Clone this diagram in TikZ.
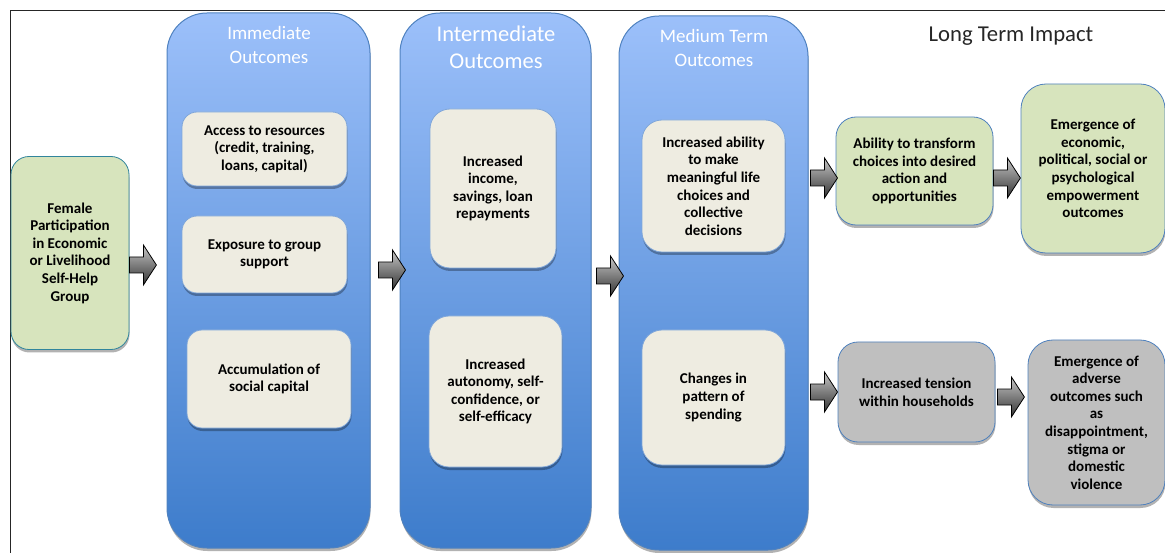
\documentclass[tikz,border=0pt]{standalone}
\usepackage{fontspec}
\setmainfont{Carlito}
\usetikzlibrary{shadows}

\definecolor{colTop}{HTML}{9CC0FA}
\definecolor{colBot}{HTML}{3D7CCB}
\definecolor{colEdge}{HTML}{4F82C0}
\definecolor{boxFill}{HTML}{EEECE1}
\definecolor{boxEdge}{HTML}{7FA6D9}
\definecolor{greenFill}{HTML}{D7E4BD}
\definecolor{greyFill}{HTML}{BFBFBF}
\definecolor{tealEdge}{HTML}{31859C}
\definecolor{blueEdge}{HTML}{4F81BD}

\tikzset{
  softshadow/.style={drop shadow={shadow xshift=0.5pt,shadow yshift=-3pt,opacity=0.3,fill=black}},
  column/.style={draw=colEdge,line width=1pt,rounded corners=40pt,
    top color=colTop,bottom color=colBot,softshadow},
  header/.style={text=white,align=center,font=\fontsize{19}{24}\selectfont},
  outcome/.style={draw=boxEdge,line width=0.8pt,fill=boxFill,rounded corners=15pt,
    align=center,inner sep=2pt,font=\bfseries\fontsize{15}{17.6}\selectfont,softshadow},
  impact/.style={outcome,draw=blueEdge,fill=greenFill,rounded corners=20pt},
  adverse/.style={outcome,draw=blueEdge,fill=greyFill,rounded corners=20pt},
  flowarrow/.style={draw=black,line width=0.8pt,line join=miter,
    top color=gray!45,bottom color=black!80},
  flow/.pic={
    \draw[flowarrow] (0,-8) -- (14,-8) -- (14,-20) -- (27,0) -- (14,20)
      -- (14,8) -- (0,8) -- cycle;
  }
}

\begin{document}
\begin{tikzpicture}[x=1pt,y=1pt]
  \useasboundingbox (0,0) rectangle (1165,-553);
  \draw[black!85,line width=0.8pt] (10,-553) |- (1165,-10);

  % starting point
  \node[outcome,draw=tealEdge,fill=greenFill,rounded corners=18pt,
    minimum width=118pt,minimum height=193pt] (female) at (70,-253)
    {Female\\Participation\\in Economic\\or Livelihood\\Self-Help\\Group};

  % outcome columns
  \node[column,minimum width=203pt,minimum height=535pt] (imm) at (268.5,-280.5) {};
  \node[header] (immHead) at (269,-45) {Immediate\\Outcomes};
  \node[column,minimum width=191pt,minimum height=535pt] (inter) at (495.5,-280.5) {};
  \node[header,font=\fontsize{22.5}{27}\selectfont] (interHead) at (496,-47.5) {Intermediate\\Outcomes};
  \node[column,minimum width=189pt,minimum height=534pt] (med) at (713.5,-283) {};
  \node[header] (medHead) at (714,-48) {Medium Term\\Outcomes};
  \node[text=black!85,font=\fontsize{22.7}{26}\selectfont] (longHead) at (1011,-36) {Long Term Impact};

  % immediate
  \node[outcome,minimum width=165pt,minimum height=74pt] (access) at (264.5,-149)
    {Access to resources\\(credit, training,\\loans, capital)};
  \node[outcome,minimum width=165pt,minimum height=77pt] (exposure) at (264.5,-254.5)
    {Exposure to group\\support};
  \node[outcome,minimum width=164pt,minimum height=98pt] (social) at (269,-379)
    {Accumulation of\\social capital};

  % intermediate
  \node[outcome,rounded corners=20pt,minimum width=126pt,minimum height=159pt] (income) at (493,-188.5)
    {Increased\\income,\\savings, loan\\repayments};
  \node[outcome,rounded corners=20pt,minimum width=133pt,minimum height=151pt] (autonomy) at (495.5,-391.5)
    {Increased\\autonomy, self-\\confidence, or\\self-efficacy};

  % medium term
  \node[outcome,rounded corners=20pt,minimum width=143pt,minimum height=132pt] (ability) at (713.5,-186)
    {Increased ability\\to make\\meaningful life\\choices and\\collective\\decisions};
  \node[outcome,rounded corners=20pt,minimum width=143pt,minimum height=135pt] (spending) at (713.5,-397.5)
    {Changes in\\pattern of\\spending};

  % long term
  \node[impact,minimum width=157pt,minimum height=108pt] (transform) at (914.5,-171)
    {Ability to transform\\choices into desired\\action and\\opportunities};
  \node[impact,rounded corners=25pt,minimum width=144pt,minimum height=169pt] (empower) at (1093,-168.5)
    {Emergence of\\economic,\\political, social or\\psychological\\empowerment\\outcomes};
  \node[adverse,minimum width=157pt,minimum height=100pt] (tension) at (916.5,-392)
    {Increased tension\\within households};
  \node[adverse,rounded corners=25pt,minimum width=137pt,minimum height=165pt] (harm) at (1096.5,-422.5)
    {Emergence of\\adverse\\outcomes such\\as\\disappointment,\\stigma or\\domestic\\violence};

  % block arrows
  \pic at (female.east |- 0,-265) {flow};
  \pic at ([xshift=8pt]imm.east |- 0,-270) {flow};
  \pic at ([xshift=5pt]inter.east |- 0,-276) {flow};
  \pic at ([xshift=2pt]med.east |- 0,-178) {flow};
  \pic at (transform.east |- 0,-178) {flow};
  \pic at ([xshift=2pt]med.east |- 0,-392) {flow};
  \pic at ([xshift=2pt]tension.east |- 0,-397) {flow};
\end{tikzpicture}
\end{document}
